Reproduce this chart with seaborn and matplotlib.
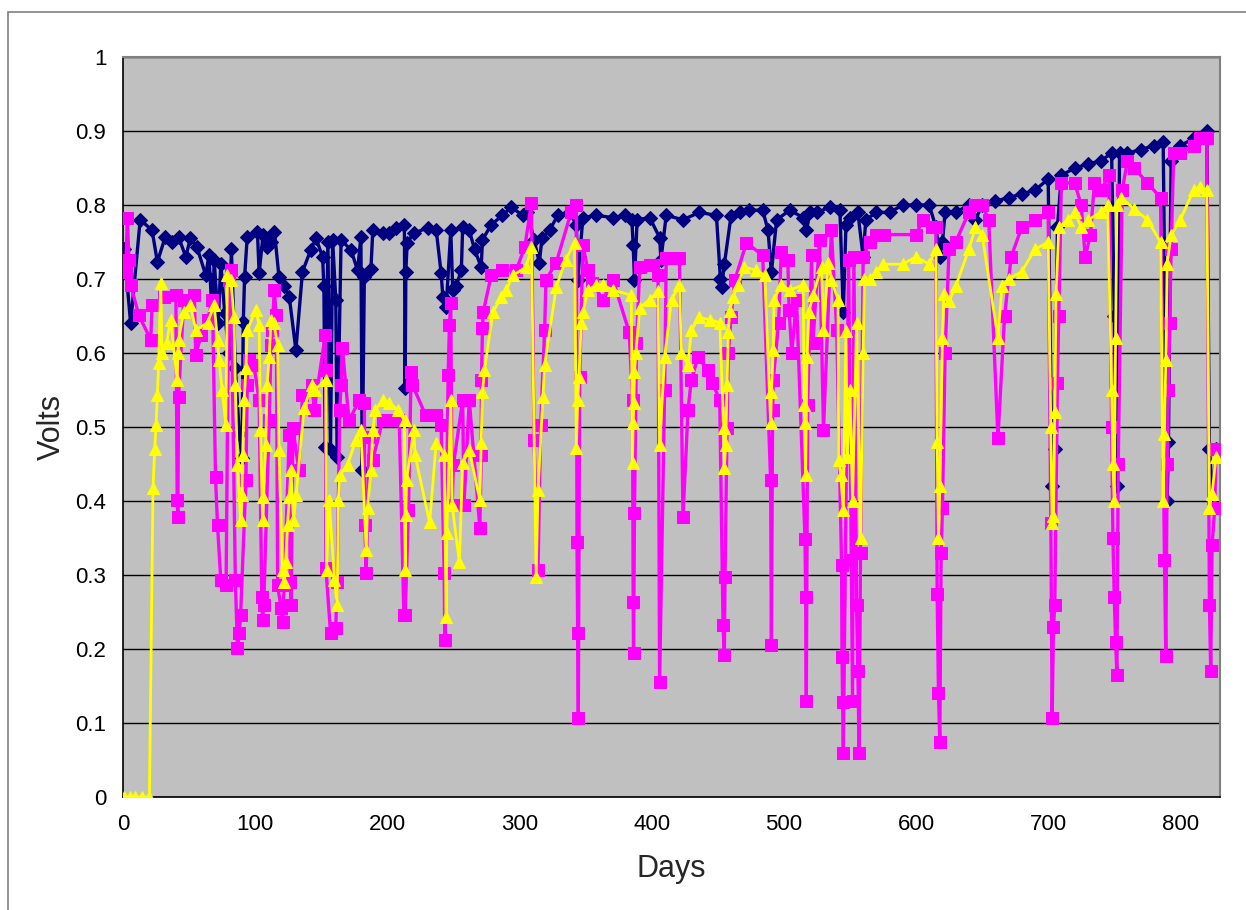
import numpy as np
import pandas as pd
import matplotlib
matplotlib.use("Agg")
import matplotlib.pyplot as plt
import seaborn as sns
from matplotlib.patches import Rectangle
from matplotlib.ticker import FuncFormatter

# --- series 1 (navy diamonds) ---
navy_days = [0.8, 5.8, 13, 22, 26, 32, 37, 42, 47.5, 51, 56, 62.6, 65, 67.7, 69, 72, 74, 77, 80, 82,
             85, 88, 90, 91, 92, 94, 101.7, 103, 106, 109, 112, 114.6, 118, 122, 125.8, 130.8, 135.8,
             142, 146, 151, 152, 153, 155, 157, 158.6, 161, 162, 165, 172.5, 177.5, 180, 181, 182.6,
             187.6, 189, 196.5, 201.5, 206.6, 212.9, 213.5, 214, 215, 220, 230.5, 237, 240.7, 242,
             244.5, 248, 249.5, 252, 256, 257, 262, 266, 271, 272, 278.5, 287, 293.7, 302.5, 306,
             311, 315, 317, 322.7, 329, 338, 343, 344, 348, 358, 370.7, 379.5, 385, 386, 387, 389,
             398.5, 406, 407, 411, 423.7, 436, 449, 452, 453, 455, 460, 466.7, 474, 484, 488, 490.6,
             494.5, 504.5, 514.6, 517, 520, 524.8, 535, 542.4, 545, 547, 550, 556, 560, 562, 570,
             580, 590, 600, 610, 615, 618, 620, 622, 630, 640, 645, 650, 660, 670, 680, 690, 700,
             703, 705, 707, 710, 720, 730, 740, 748, 750, 752, 754, 760, 770, 780, 787, 790, 791,
             793, 800, 810, 820, 822, 825, 827]
navy_volts = [0.74, 0.64, 0.78, 0.766, 0.723, 0.757, 0.75, 0.757, 0.73, 0.755, 0.743, 0.705, 0.732,
              0.645, 0.726, 0.64, 0.72, 0.654, 0.60, 0.74, 0.58, 0.49, 0.458, 0.642, 0.703, 0.757,
              0.764, 0.708, 0.76, 0.743, 0.75, 0.764, 0.703, 0.69, 0.676, 0.604, 0.71, 0.739, 0.755,
              0.73, 0.69, 0.473, 0.75, 0.469, 0.753, 0.672, 0.46, 0.753, 0.739, 0.712, 0.757, 0.442,
              0.703, 0.714, 0.766, 0.762, 0.762, 0.769, 0.773, 0.553, 0.71, 0.749, 0.762, 0.769,
              0.766, 0.708, 0.676, 0.662, 0.766, 0.685, 0.69, 0.712, 0.77, 0.766, 0.74, 0.716, 0.753,
              0.773, 0.786, 0.797, 0.786, 0.79, 0.753, 0.722, 0.755, 0.766, 0.786, 0.79, 0.773, 0.699,
              0.783, 0.786, 0.783, 0.786, 0.78, 0.746, 0.699, 0.78, 0.783, 0.756, 0.726, 0.786, 0.78,
              0.79, 0.786, 0.70, 0.689, 0.72, 0.785, 0.79, 0.793, 0.793, 0.766, 0.709, 0.78, 0.793,
              0.783, 0.766, 0.79, 0.79, 0.797, 0.793, 0.655, 0.773, 0.783, 0.79, 0.73, 0.78, 0.79,
              0.79, 0.80, 0.80, 0.80, 0.77, 0.73, 0.75, 0.79, 0.79, 0.80, 0.78, 0.80, 0.805, 0.81,
              0.815, 0.82, 0.835, 0.42, 0.47, 0.77, 0.84, 0.85, 0.855, 0.86, 0.87, 0.65, 0.42, 0.87,
              0.87, 0.875, 0.88, 0.885, 0.40, 0.48, 0.86, 0.88, 0.89, 0.90, 0.47, 0.39, 0.47]

# --- series 2 (magenta squares) ---
mag_days = [2, 3.3, 4.5, 5.8, 12, 21, 22, 31, 40, 41, 41.5, 42, 46, 54, 55, 59, 64, 67.7, 70, 71.5,
            74, 78, 80, 81.6, 85, 86.6, 88, 89, 93, 94, 95, 99, 103, 105, 105.6, 106.5, 110.6, 112,
            113, 114.4, 116, 117, 119.5, 120.7, 122, 125.8, 126.5, 127.3, 128.5, 133, 135.8, 143,
            144.7, 153, 153.3, 153.5, 157, 161, 162, 164, 165, 166, 171, 178.8, 182.6, 183, 184,
            186.5, 188.9, 196.5, 201.5, 209, 212.5, 213.5, 216, 218, 219, 229, 237, 240.7, 243,
            243.5, 246, 247, 248, 249, 250, 257, 258, 262, 270, 271, 271.2, 272, 272.5, 278.6, 287,
            297.5, 304, 309, 311, 314, 316, 319, 320, 327.8, 339, 343, 343.5, 344, 344.5, 345.5,
            348, 351.7, 355, 363, 370.7, 383, 385.5, 386, 386.3, 387, 388.5, 391, 398.5, 401,
            404.8, 406, 409.8, 411, 413.6, 421, 423.7, 427.5, 430, 435, 442.7, 446, 451.5, 454,
            455, 455.5, 457, 458, 460, 463, 471.7, 484, 490, 490.6, 491.5, 492, 496, 498, 503, 504,
            506, 509.6, 516, 516.5, 517, 518, 521, 522, 527, 530, 536, 540, 543.7, 544, 544.5, 545,
            549, 551, 552, 553, 555, 556, 557, 558, 560, 565, 570, 576, 600, 605, 612, 615, 616,
            617, 618, 619, 620, 622, 625, 630, 640, 645, 650, 655, 662, 667, 672, 680, 690, 700,
            702, 703, 704, 705, 707, 708, 710, 720, 725, 728, 732, 735, 740, 746, 748, 749, 750,
            751, 752, 753, 756, 760, 765, 775, 785, 788, 789, 790, 791, 792, 793, 795, 800, 810,
            815, 820, 822, 823, 824, 826, 827]
mag_volts = [0.709, 0.783, 0.726, 0.692, 0.651, 0.618, 0.665, 0.675, 0.678, 0.401, 0.378, 0.54,
             0.672, 0.678, 0.597, 0.624, 0.645, 0.672, 0.432, 0.368, 0.293, 0.286, 0.699, 0.712,
             0.293, 0.202, 0.222, 0.246, 0.428, 0.557, 0.59, 0.584, 0.536, 0.27, 0.239, 0.26, 0.509,
             0.611, 0.631, 0.685, 0.651, 0.286, 0.256, 0.236, 0.286, 0.489, 0.29, 0.26, 0.499,
             0.442, 0.543, 0.557, 0.523, 0.624, 0.577, 0.31, 0.222, 0.229, 0.29, 0.523, 0.557,
             0.607, 0.509, 0.536, 0.533, 0.368, 0.303, 0.486, 0.455, 0.509, 0.509, 0.509, 0.246,
             0.246, 0.388, 0.575, 0.557, 0.516, 0.516, 0.503, 0.303, 0.212, 0.57, 0.638, 0.668,
             0.395, 0.449, 0.536, 0.395, 0.536, 0.364, 0.462, 0.564, 0.634, 0.655, 0.705, 0.712,
             0.712, 0.743, 0.803, 0.482, 0.307, 0.503, 0.631, 0.699, 0.722, 0.79, 0.80, 0.344,
             0.222, 0.107, 0.567, 0.746, 0.712, 0.695, 0.672, 0.699, 0.628, 0.536, 0.263, 0.195,
             0.384, 0.614, 0.716, 0.719, 0.719, 0.705, 0.155, 0.55, 0.729, 0.729, 0.729, 0.378,
             0.523, 0.564, 0.594, 0.577, 0.56, 0.536, 0.232, 0.192, 0.297, 0.499, 0.60, 0.648,
             0.699, 0.749, 0.732, 0.428, 0.205, 0.523, 0.564, 0.64, 0.736, 0.726, 0.658, 0.60,
             0.672, 0.349, 0.27, 0.13, 0.53, 0.732, 0.614, 0.753, 0.496, 0.766, 0.631, 0.313, 0.189,
             0.128, 0.06, 0.726, 0.32, 0.13, 0.73, 0.26, 0.17, 0.06, 0.33, 0.73, 0.75, 0.76, 0.76,
             0.76, 0.78, 0.77, 0.77, 0.275, 0.14, 0.075, 0.33, 0.39, 0.60, 0.74, 0.75, 0.79, 0.80,
             0.80, 0.78, 0.485, 0.65, 0.73, 0.77, 0.78, 0.79, 0.37, 0.107, 0.23, 0.26, 0.56, 0.65,
             0.83, 0.83, 0.80, 0.73, 0.76, 0.83, 0.82, 0.84, 0.50, 0.35, 0.27, 0.21, 0.165, 0.45,
             0.82, 0.86, 0.85, 0.83, 0.81, 0.32, 0.19, 0.45, 0.55, 0.64, 0.74, 0.87, 0.87, 0.88,
             0.89, 0.89, 0.26, 0.17, 0.34, 0.39, 0.47]

# --- series 3 (yellow triangles) ---
yel_days = [1, 5, 9, 14, 20, 22.7, 24, 25, 26, 27, 28.5, 29.6, 33, 36, 41, 41.5, 42, 46, 51, 55, 64,
            69, 71.5, 72.7, 75, 77.8, 79, 81.6, 84, 85, 86.6, 89, 90, 90.5, 91.7, 93, 94, 100.5, 103,
            104, 105.6, 106, 108, 109, 110.6, 112, 114, 117, 118, 120.7, 122, 123, 124.5, 125.8, 127,
            129, 131, 137, 143, 145, 153.5, 154, 156, 160, 162, 163, 164, 170, 176, 180, 184, 185,
            187.6, 189, 191, 196.5, 201.5, 208, 213, 213.5, 214, 214.5, 220, 221, 232, 237, 243,
            244.5, 245, 248, 249, 254.5, 257, 262, 270, 271, 272, 273.5, 279.8, 286, 290, 295, 305,
            309, 312.6, 314, 317.7, 319, 327.8, 335, 341.7, 343, 344, 345, 346.7, 348, 351.7, 358,
            363, 370.7, 384.6, 385.5, 386, 386.5, 387, 388, 391, 398.5, 404.8, 406, 409.8, 415, 421,
            422.5, 427.5, 430, 436, 444, 451.5, 454.5, 455, 456, 457, 458, 459, 461.6, 465, 470, 479,
            485.6, 490, 490.6, 492, 492.5, 498, 504.5, 514.6, 515.5, 516, 516.5, 517.5, 519, 522,
            528.5, 530, 533.6, 536, 541, 541.5, 543, 545, 547, 548, 550, 552, 555, 558, 560, 561,
            565, 570, 575, 590, 600, 610, 615, 616, 617, 618, 620, 621, 625, 630, 640, 645, 650, 662,
            665, 670, 680, 690, 700, 702, 703, 704, 705, 706, 708, 715, 720, 725, 730, 740, 745, 748,
            749, 750, 751, 752, 755, 765, 775, 785, 787, 788, 789, 790, 793, 800, 810, 815, 820, 822,
            824, 827]
yel_volts = [0, 0, 0, 0, 0, 0.418, 0.47, 0.503, 0.543, 0.587, 0.695, 0.60, 0.614, 0.645, 0.563, 0.60,
             0.618, 0.655, 0.665, 0.631, 0.641, 0.665, 0.618, 0.59, 0.55, 0.503, 0.705, 0.699, 0.648,
             0.557, 0.449, 0.374, 0.408, 0.462, 0.536, 0.58, 0.631, 0.658, 0.638, 0.496, 0.374, 0.405,
             0.476, 0.557, 0.594, 0.645, 0.641, 0.611, 0.469, 0.307, 0.29, 0.317, 0.368, 0.405, 0.442,
             0.374, 0.408, 0.526, 0.557, 0.55, 0.564, 0.307, 0.401, 0.293, 0.26, 0.401, 0.435, 0.449,
             0.482, 0.496, 0.334, 0.391, 0.442, 0.496, 0.523, 0.536, 0.533, 0.523, 0.509, 0.307,
             0.381, 0.428, 0.496, 0.462, 0.371, 0.479, 0.462, 0.243, 0.357, 0.536, 0.395, 0.317,
             0.452, 0.469, 0.401, 0.479, 0.547, 0.577, 0.655, 0.675, 0.685, 0.705, 0.716, 0.743,
             0.297, 0.415, 0.54, 0.584, 0.689, 0.726, 0.749, 0.472, 0.536, 0.567, 0.641, 0.655,
             0.685, 0.692, 0.692, 0.685, 0.678, 0.452, 0.505, 0.532, 0.574, 0.60, 0.661, 0.672,
             0.684, 0.476, 0.594, 0.672, 0.692, 0.60, 0.584, 0.631, 0.648, 0.645, 0.641, 0.499,
             0.445, 0.476, 0.557, 0.628, 0.657, 0.675, 0.692, 0.716, 0.712, 0.705, 0.506, 0.547,
             0.604, 0.672, 0.692, 0.685, 0.692, 0.53, 0.506, 0.435, 0.594, 0.655, 0.678, 0.716,
             0.631, 0.722, 0.699, 0.672, 0.455, 0.435, 0.388, 0.63, 0.46, 0.55, 0.40, 0.64, 0.35,
             0.60, 0.70, 0.70, 0.71, 0.72, 0.72, 0.73, 0.72, 0.74, 0.48, 0.35, 0.42, 0.62, 0.68,
             0.67, 0.69, 0.74, 0.77, 0.76, 0.62, 0.69, 0.70, 0.71, 0.74, 0.75, 0.50, 0.37, 0.38,
             0.52, 0.68, 0.77, 0.78, 0.79, 0.77, 0.78, 0.79, 0.80, 0.55, 0.45, 0.40, 0.62, 0.80,
             0.81, 0.795, 0.78, 0.75, 0.40, 0.49, 0.59, 0.72, 0.76, 0.78, 0.82, 0.825, 0.82, 0.39,
             0.41, 0.46]

x_ticks = list(range(0, 900, 100))
y_ticks = [round(0.1 * i, 1) for i in range(11)]

sns.set_style("white")
plt.rcParams["font.family"] = ["Liberation Sans", "DejaVu Sans"]

fig = plt.figure(figsize=(12.46, 9.10), dpi=100)
ax = fig.add_axes([123 / 1246, 1 - 797 / 910, (1220 - 123) / 1246, 740 / 910])
ax.set_facecolor("#C0C0C0")

# outer chart-area border
fig.patches.append(Rectangle((8 / 1246, -0.1), 1.2, 1 - 12 / 910 + 0.1, transform=fig.transFigure,
                             fill=False, edgecolor="#808080", linewidth=1.2, zorder=0))

series = [
    (navy_days, navy_volts, "#000080", "D", 7.0, 2.4),
    (mag_days, mag_volts, "#FF00FF", "s", 9.0, 2.4),
    (yel_days, yel_volts, "#FFFF00", "^", 9.0, 2.0),
]
for i, (d, v, col, mk, ms, lw) in enumerate(series):
    df = pd.DataFrame({"Days": d, "Volts": v})
    sns.lineplot(data=df, x="Days", y="Volts", sort=False, estimator=None, color=col, marker=mk,
                 markersize=ms, markeredgecolor=col, linewidth=lw, ax=ax, zorder=3 + i)

ax.set_xlim(0, 830)
ax.set_ylim(0, 1)
ax.set_xticks(x_ticks)
ax.set_yticks(y_ticks)
ax.yaxis.set_major_formatter(FuncFormatter(lambda v, p: f"{v:g}"))
ax.grid(axis="y", color="black", linewidth=1.0)
ax.grid(axis="x", visible=False)
ax.set_axisbelow(True)
for s in ["top", "right"]:
    ax.spines[s].set_color("#808080")
    ax.spines[s].set_linewidth(1.5)
for s in ["left", "bottom"]:
    ax.spines[s].set_color("black")
    ax.spines[s].set_linewidth(1.2)
ax.tick_params(axis="both", direction="out", length=6, width=1, colors="black", labelsize=16, pad=6)
ax.set_xlabel("Days", fontsize=22, labelpad=14)
ax.set_ylabel("Volts", fontsize=22, labelpad=6)

fig.savefig("out.png", dpi=100)
